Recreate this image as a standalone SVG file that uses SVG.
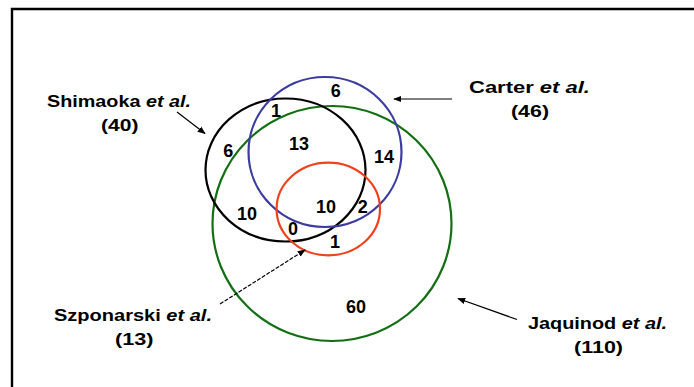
<svg xmlns="http://www.w3.org/2000/svg" width="694" height="387" viewBox="0 0 694 387">
<defs>
<style>
.lbl{font-family:"Liberation Sans",Arial,sans-serif;font-weight:bold;font-size:17px;fill:#000}
.num{font-family:"Liberation Sans",Arial,sans-serif;font-weight:bold;font-size:18px;fill:#000;text-anchor:middle}
.it{font-style:italic}
.set{fill:none;stroke-width:2.2}
.arr{stroke:#000;stroke-width:1.2;fill:none;marker-end:url(#ah)}
</style>
<marker id="ah" viewBox="0 0 10 10" refX="9" refY="5" markerWidth="8" markerHeight="8" markerUnits="userSpaceOnUse" orient="auto">
<path d="M0,1 L10,5 L0,9 Z" fill="#000"/>
</marker>
</defs>
<rect width="694" height="387" fill="#fff"/>
<path d="M12,387 V9 H694" fill="none" stroke="#000" stroke-width="2.4"/>

<g id="jaquinod">
<ellipse class="set" cx="332" cy="223.5" rx="119.5" ry="117.5" stroke="#127012"/>
<text class="lbl" x="528" y="329" textLength="139" lengthAdjust="spacingAndGlyphs">Jaquinod <tspan class="it">et al.</tspan></text>
<text class="lbl" x="574" y="352.5" textLength="49" lengthAdjust="spacingAndGlyphs">(110)</text>
</g>

<g id="shimaoka">
<ellipse class="set" cx="285.5" cy="170" rx="80" ry="71.5" stroke="#000"/>
<text class="lbl" x="47" y="107" textLength="144" lengthAdjust="spacingAndGlyphs">Shimaoka <tspan class="it">et al.</tspan></text>
<text class="lbl" x="101" y="131" textLength="37.5" lengthAdjust="spacingAndGlyphs">(40)</text>
</g>

<g id="carter">
<ellipse class="set" cx="325" cy="152" rx="76.5" ry="75" stroke="#3b3ba0"/>
<text class="lbl" x="469" y="93" textLength="121" lengthAdjust="spacingAndGlyphs">Carter <tspan class="it">et al.</tspan></text>
<text class="lbl" x="511" y="117" textLength="38" lengthAdjust="spacingAndGlyphs">(46)</text>
</g>

<g id="szponarski">
<ellipse class="set" cx="328.3" cy="209" rx="51.7" ry="46.3" stroke="#f0401c"/>
<text class="lbl" x="54" y="321" textLength="158" lengthAdjust="spacingAndGlyphs">Szponarski <tspan class="it">et al.</tspan></text>
<text class="lbl" x="115" y="344.5" textLength="38.5" lengthAdjust="spacingAndGlyphs">(13)</text>
</g>

<g id="counts">
<text class="num" x="335.7" y="96.7">6</text>
<text class="num" x="276" y="116.7">1</text>
<text class="num" x="299" y="150">13</text>
<text class="num" x="228.3" y="157">6</text>
<text class="num" x="384" y="163">14</text>
<text class="num" x="247" y="220">10</text>
<text class="num" x="326" y="213">10</text>
<text class="num" x="362.7" y="213">2</text>
<text class="num" x="293" y="235">0</text>
<text class="num" x="335" y="247.7">1</text>
<text class="num" x="356" y="313">60</text>
</g>

<g id="connectors">
<line class="arr" x1="177" y1="112" x2="205" y2="133.5"/>
<line class="arr" x1="452" y1="99" x2="394" y2="99"/>
<line class="arr" x1="220" y1="304" x2="305" y2="250" stroke-dasharray="4,1.5"/>
<line class="arr" x1="517" y1="319.5" x2="458" y2="298.5"/>
</g>
</svg>
